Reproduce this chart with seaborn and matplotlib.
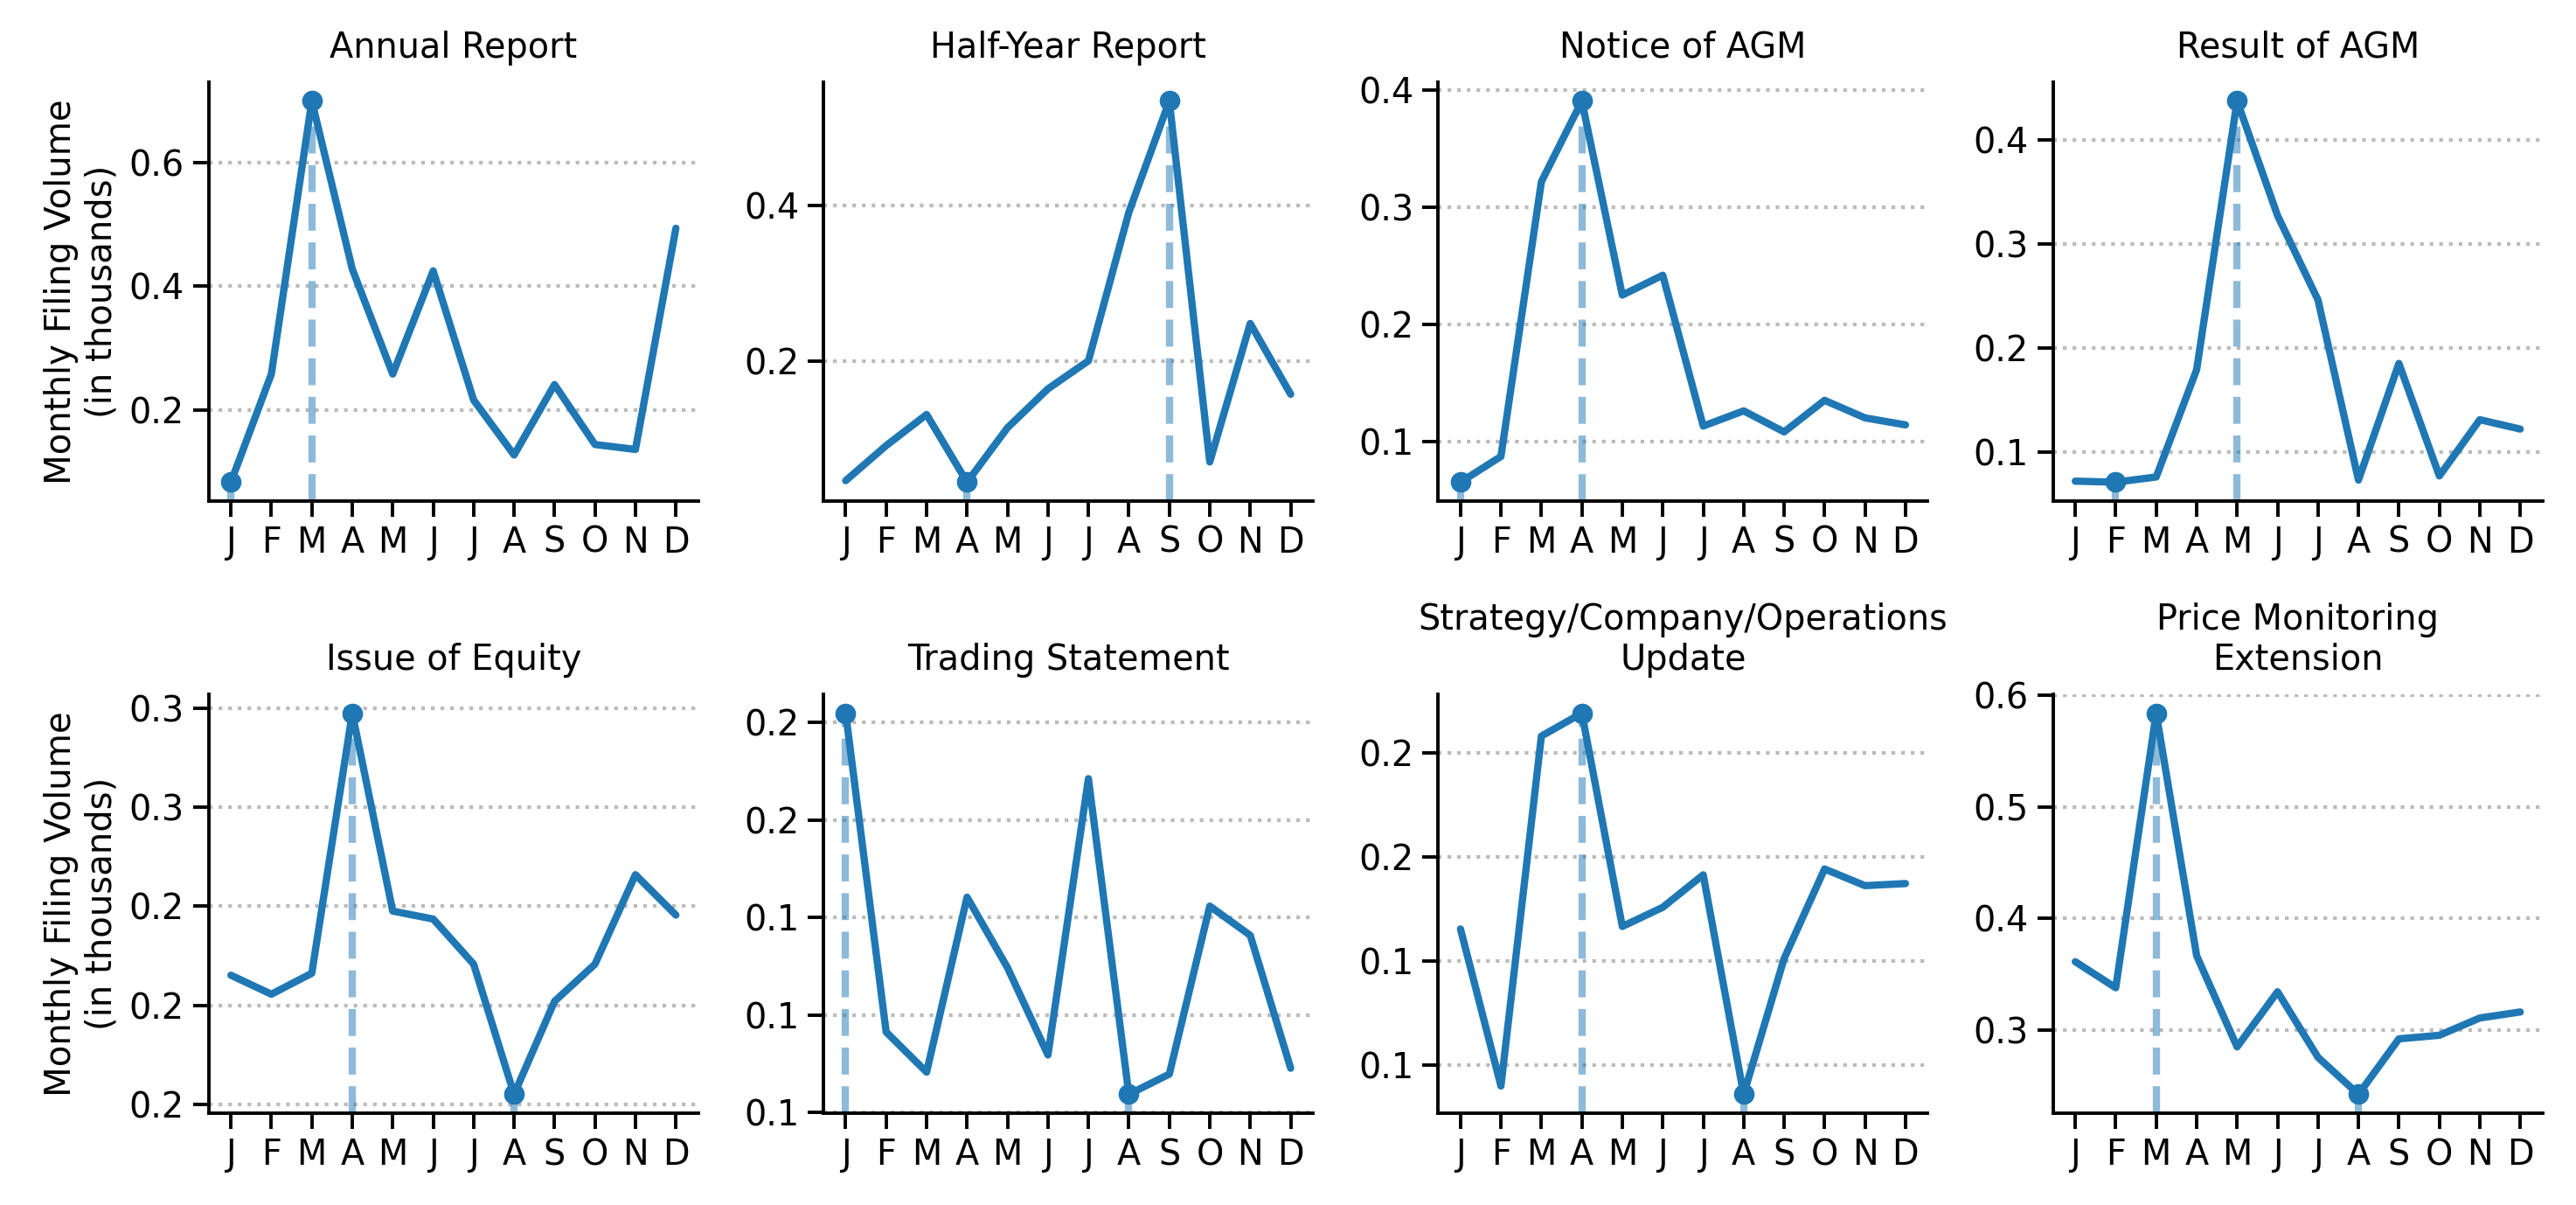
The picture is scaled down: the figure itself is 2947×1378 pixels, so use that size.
import pandas as pd
import numpy as np
import matplotlib
matplotlib.use('Agg')
import matplotlib.pyplot as plt
import seaborn as sns
from matplotlib.ticker import FuncFormatter, MaxNLocator

# Month labels and monthly filing volume (in thousands) per category
months = ['J', 'F', 'M', 'A', 'M', 'J', 'J', 'A', 'S', 'O', 'N', 'D']

annual_report = [0.083, 0.258, 0.700, 0.428, 0.258, 0.425, 0.216, 0.127, 0.241, 0.144, 0.136, 0.494]
half_year_report = [0.046, 0.091, 0.131, 0.044, 0.114, 0.164, 0.200, 0.391, 0.534, 0.070, 0.248, 0.157]
notice_of_agm = [0.065, 0.087, 0.322, 0.391, 0.225, 0.242, 0.113, 0.126, 0.108, 0.135, 0.120, 0.114]
result_of_agm = [0.072, 0.071, 0.076, 0.179, 0.437, 0.327, 0.246, 0.073, 0.185, 0.077, 0.131, 0.122]
issue_of_equity = [0.2326, 0.2278, 0.2331, 0.2988, 0.2488, 0.2468, 0.2354, 0.2025, 0.2260, 0.2354, 0.2580, 0.2478]
trading_statement = [0.2024, 0.1206, 0.1103, 0.1552, 0.1371, 0.1147, 0.1856, 0.1046, 0.1098, 0.1529, 0.1454, 0.1113]
strategy_update = [0.1577, 0.1200, 0.2040, 0.2095, 0.1583, 0.1629, 0.1707, 0.1180, 0.1506, 0.1721, 0.1681, 0.1686]
price_monitoring = [0.3613, 0.3379, 0.5842, 0.3667, 0.2849, 0.3343, 0.2755, 0.2423, 0.2921, 0.2953, 0.3108, 0.3162]

titles = ['Annual Report', 'Half-Year Report', 'Notice of AGM', 'Result of AGM',
          'Issue of Equity', 'Trading Statement',
          'Strategy/Company/Operations\nUpdate', 'Price Monitoring\nExtension']
series = [annual_report, half_year_report, notice_of_agm, result_of_agm,
          issue_of_equity, trading_statement, strategy_update, price_monitoring]

sns.set_theme(style='ticks', context='notebook',
              rc={'axes.edgecolor': 'black', 'xtick.color': 'black', 'ytick.color': 'black',
                  'text.color': 'black', 'axes.labelcolor': 'black'})
plt.rcParams['font.family'] = ['DejaVu Sans']
color = '#1f77b4'

# one decimal labels (clean up float noise before rounding)
one_decimal = FuncFormatter(lambda v, pos: '%.1f' % round(v, 10))

fig, axes = plt.subplots(2, 4, figsize=(14.735, 6.89), dpi=200)

for ax, title, values in zip(axes.flat, titles, series):
    df = pd.DataFrame({'month': np.arange(12), 'volume': values})
    sns.lineplot(data=df, x='month', y='volume', ax=ax, color=color, linewidth=3)

    bottom, top = ax.get_ylim()
    i_max = int(df['volume'].idxmax())
    i_min = int(df['volume'].idxmin())
    # dashed drop lines from the highest and lowest month
    for i in (i_max, i_min):
        ax.vlines(i, bottom, df['volume'][i], colors=color, linestyles='--',
                  linewidth=3, alpha=0.5, zorder=1)
    ax.plot([i_max, i_min], df['volume'][[i_max, i_min]], 'o', color=color,
            markersize=7.5, zorder=3)
    ax.set_ylim(bottom, top)

    ax.set_xticks(np.arange(12))
    ax.set_xticklabels(months)
    ax.yaxis.set_major_locator(MaxNLocator(nbins=5, steps=[1, 2, 2.5, 5, 10]))
    ax.yaxis.set_major_formatter(one_decimal)
    ax.yaxis.grid(True, linestyle=':', color='#bbbbbb', linewidth=1.5)
    ax.xaxis.grid(False)
    ax.tick_params(labelsize=14.3, length=6.5, width=1.4)
    ax.set_title(title, fontsize=14.3, pad=10)
    ax.set_xlabel('')
    ax.set_ylabel('')
    for s in ('left', 'bottom'):
        ax.spines[s].set_linewidth(1.4)

for ax in axes[:, 0]:
    ax.set_ylabel('Monthly Filing Volume\n(in thousands)', fontsize=14.5)

sns.despine(fig=fig)
plt.subplots_adjust(left=0.081, right=0.987, top=0.932, bottom=0.076, wspace=0.256, hspace=0.46)
plt.savefig('out.png', dpi=200)
